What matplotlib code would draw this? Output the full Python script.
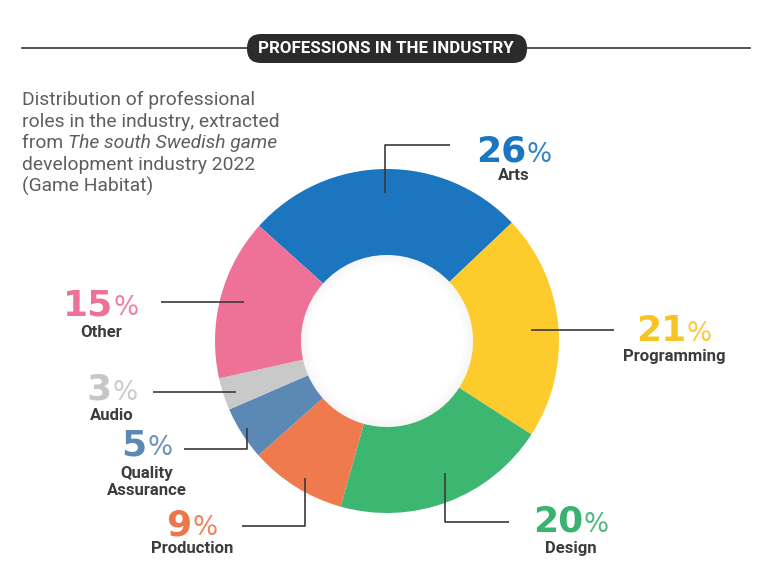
import matplotlib
matplotlib.use("Agg")
import matplotlib.pyplot as plt
from matplotlib.patches import FancyBboxPatch, Wedge

# ---- data ----
categories = ["Arts", "Programming", "Design", "Production", "Quality\nAssurance", "Audio", "Other"]
values = [26, 21, 20, 9, 5, 3, 15]
colors = ["#1B75BF", "#FDCB2B", "#3DB672", "#EF7A4E", "#5B88B5", "#C9C9C9", "#EE7198"]
pct_colors = ["#1B75BF", "#F6C523", "#3AB270", "#EF7648", "#5B88B5", "#C6C6C6", "#EE7198"]
title = "PROFESSIONS IN THE INDUSTRY"

W, H = 768, 585
fig = plt.figure(figsize=(W / 100, H / 100), dpi=100)
ax = fig.add_axes([0, 0, 1, 1])

def Y(y):  # pixel-from-top -> data
    return H - y

cx, cy = 387, 341
R, inner = 172, 86
ax.pie(values, colors=colors, startangle=138, counterclock=False,
       radius=R, center=(cx, Y(cy)),
       wedgeprops=dict(width=R - inner, linewidth=0))

# soft inner shadow
for i in range(10):
    ax.add_patch(Wedge((cx, Y(cy)), inner - i, 0, 360, width=1.0,
                       facecolor="#9a9a9a", edgecolor="none",
                       alpha=0.08 * (10 - i) / 10, zorder=3))

ax.set_xlim(0, W)
ax.set_ylim(0, H)
ax.set_aspect("equal")
ax.axis("off")

# ---- title bar ----
ax.plot([22, 750], [Y(48), Y(48)], color="#333333", lw=1.2, zorder=1)
ax.add_patch(FancyBboxPatch((247, Y(63)), 280, 29,
                            boxstyle="round,pad=0,rounding_size=14",
                            facecolor="#2B2B2B", edgecolor="none", zorder=2))
ax.text(386, Y(48.5), title, ha="center", va="center", color="white",
        fontsize=12.2, fontweight="bold", family="Roboto", zorder=3)

# ---- subtitle ----
sub_col = "#5E5E5E"
fs_sub = 13.9
lines_y = [105, 127, 148.5, 170, 192]
ax.text(22, Y(lines_y[0]), "Distribution of professional", fontsize=fs_sub, color=sub_col, family="Roboto", va="baseline")
ax.text(22, Y(lines_y[1]), "roles in the industry, extracted", fontsize=fs_sub, color=sub_col, family="Roboto", va="baseline")
t_from = ax.text(22, Y(lines_y[2]), "from ", fontsize=fs_sub, color=sub_col, family="Roboto", va="baseline")
ax.text(22, Y(lines_y[3]), "development industry 2022", fontsize=fs_sub, color=sub_col, family="Roboto", va="baseline")
ax.text(22, Y(lines_y[4]), "(Game Habitat)", fontsize=fs_sub, color=sub_col, family="Roboto", va="baseline")

fig.canvas.draw()
renderer = fig.canvas.get_renderer()
wfrom = t_from.get_window_extent(renderer).width
ax.text(22 + wfrom, Y(lines_y[2]), "The south Swedish game", fontsize=fs_sub, color=sub_col,
        family="Roboto", style="italic", va="baseline")

# ---- labels ----
label_cx = [514, 674, 571, 192, 147, 112, 101]
pct_base = [162, 341, 532, 535, 455, 400, 315]
name_base = [180, 361, 553, 553, 478, 420, 337]

def pct_label(x, yb, val, col):
    t1 = ax.text(0, Y(yb), str(val), fontsize=26, fontweight="heavy", family="DejaVu Sans",
                 color=col, va="baseline", ha="left")
    t2 = ax.text(0, Y(yb), "%", fontsize=19, fontweight="normal", family="DejaVu Sans",
                 color=col, va="baseline", ha="left", alpha=0.9)
    fig.canvas.draw()
    w1 = t1.get_window_extent(renderer).width
    w2 = t2.get_window_extent(renderer).width
    gap = 0.5
    left = x - (w1 + w2 + gap) / 2
    t1.set_x(left)
    t2.set_x(left + w1 + gap)

name_kw = dict(ha="center", va="baseline", fontsize=12, fontweight="bold",
               family="Roboto", color="#3C3C3C")
for i, cat in enumerate(categories):
    pct_label(label_cx[i], pct_base[i], values[i], pct_colors[i])
    if "\n" in cat:
        a, b = cat.split("\n")
        ax.text(label_cx[i], Y(name_base[i]), a, **name_kw)
        ax.text(label_cx[i], Y(name_base[i] + 17), b, **name_kw)
    else:
        ax.text(label_cx[i], Y(name_base[i]), cat, **name_kw)

# ---- leader lines ----
lc, lw = "#3A3A3A", 1.2
leaders = [
    [(385, 193), (385, 145), (450, 145)],          # Arts
    [(531, 330), (614, 330)],                      # Programming
    [(445, 473), (445, 522), (509, 522)],          # Design
    [(305, 478), (305, 526), (242, 526)],          # Production
    [(247, 428), (247, 449), (184, 449)],          # QA
    [(236, 392), (153, 392)],                      # Audio
    [(244, 302), (161, 302)],                      # Other
]
for pts in leaders:
    xs = [p[0] for p in pts]
    ys = [Y(p[1]) for p in pts]
    ax.plot(xs, ys, color=lc, lw=lw, zorder=5, solid_capstyle="butt")

fig.savefig("out.png", dpi=100, facecolor="white")
